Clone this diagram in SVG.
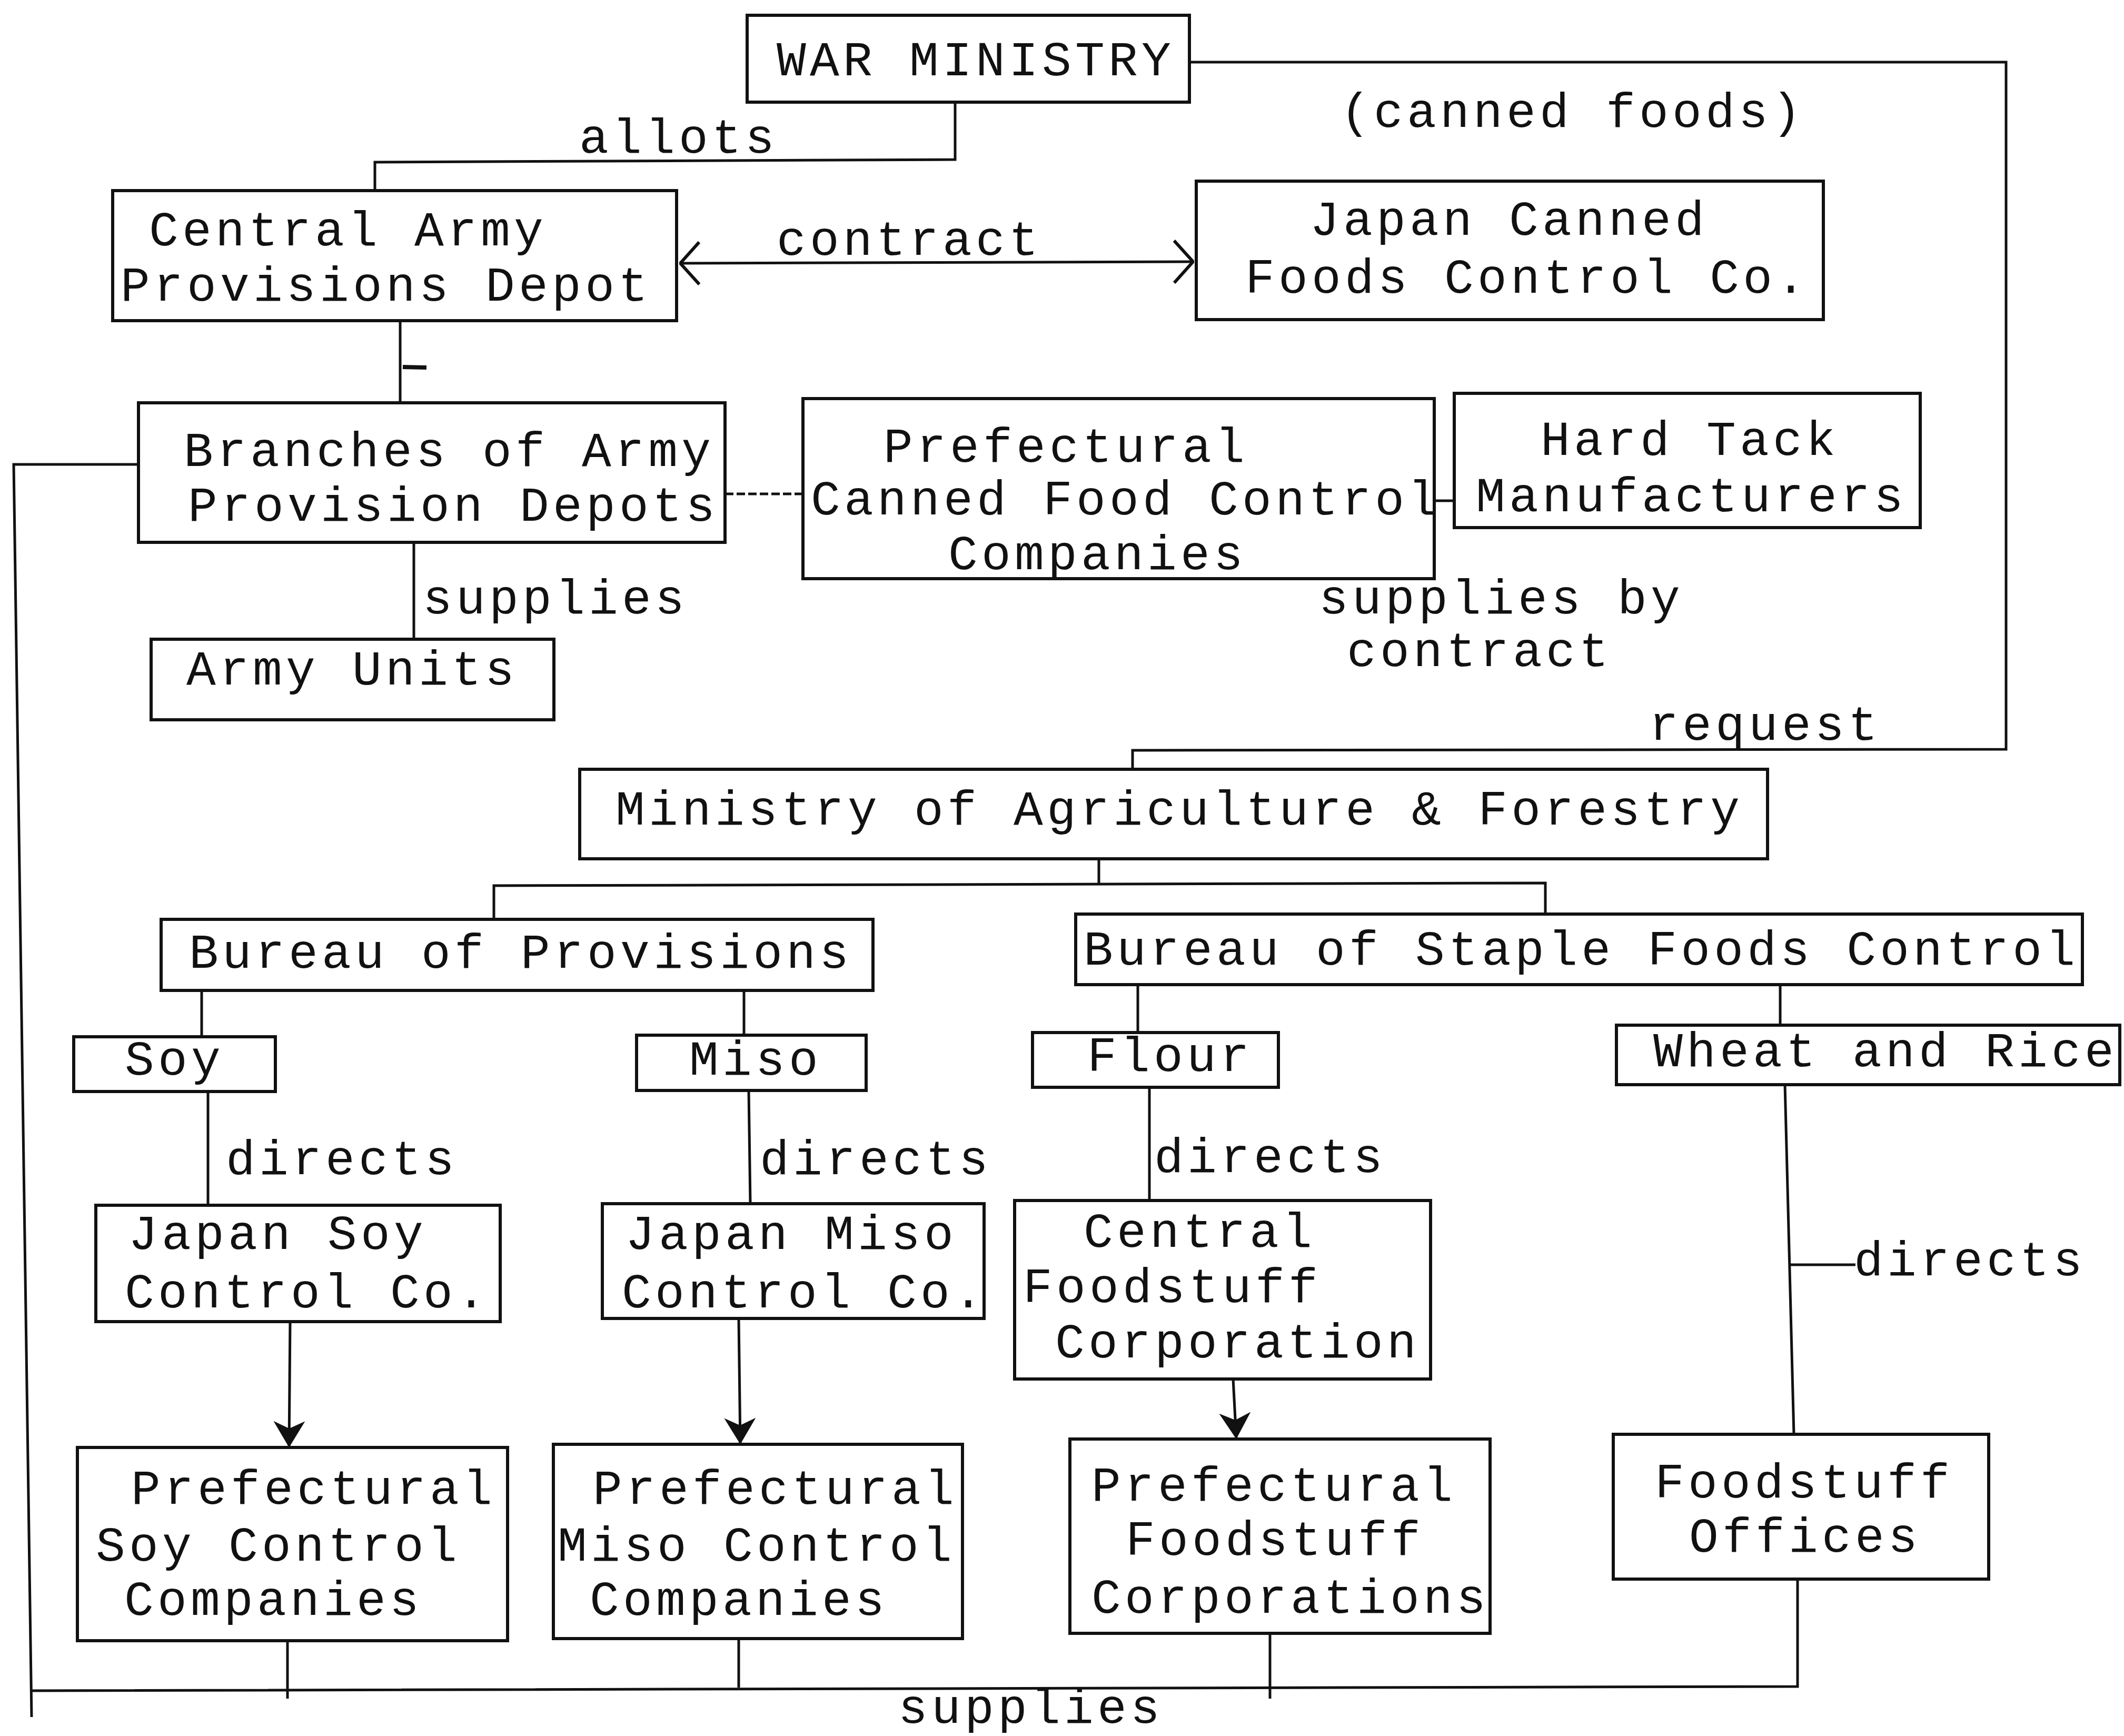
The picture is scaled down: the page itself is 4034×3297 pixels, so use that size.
<svg xmlns="http://www.w3.org/2000/svg" width="4034" height="3297" viewBox="0 0 4034 3297">
<style>
.box{fill:none;stroke:#111;stroke-width:6}
.ln{fill:none;stroke:#111;stroke-width:5}
.dash{fill:none;stroke:#111;stroke-width:5;stroke-dasharray:16 6}
text{font-family:"Liberation Mono","Courier New",monospace;font-size:93px;letter-spacing:7.2px;fill:#111}
</style>
<defs>
<marker id="ah" viewBox="0 0 50 60" refX="50" refY="30" markerWidth="50" markerHeight="60" markerUnits="userSpaceOnUse" orient="auto-start-reverse">
<path d="M0,0 L50,30 L0,60 L14,30 Z" fill="#111"/>
</marker>
<marker id="ah2" viewBox="0 0 40 84" refX="38" refY="42" markerWidth="40" markerHeight="84" markerUnits="userSpaceOnUse" orient="auto-start-reverse">
<path d="M2,2 L38,42 L2,82" fill="none" stroke="#111" stroke-width="6"/>
</marker>
</defs>
<rect width="4034" height="3297" fill="#fff"/>

<g id="connectors">
<polyline class="ln" points="1814,196 1814,303 712,308 712,362"/>
<polyline class="ln" points="2259,118 3810,118 3810,1423 2151,1425 2151,1461"/>
<line class="ln" x1="1292" y1="500" x2="2266" y2="497" marker-start="url(#ah2)" marker-end="url(#ah2)"/>
<line class="ln" x1="760" y1="609" x2="760" y2="765"/>
<line class="ln" x1="765" y1="697" x2="810" y2="698" style="stroke-width:8"/>
<line class="dash" x1="1377" y1="938" x2="1525" y2="938"/>
<line class="ln" x1="2724" y1="951" x2="2762" y2="951"/>
<line class="ln" x1="786" y1="1030" x2="786" y2="1214"/>
<polyline class="ln" points="263,882 26,882 60,3261"/>
<line class="ln" x1="2087" y1="1631" x2="2087" y2="1680"/>
<polyline class="ln" points="938,1746 938,1682 2935,1677 2935,1737"/>
<line class="ln" x1="383" y1="1881" x2="383" y2="1969"/>
<line class="ln" x1="1413" y1="1881" x2="1413" y2="1966"/>
<line class="ln" x1="2161" y1="1870" x2="2161" y2="1961"/>
<line class="ln" x1="3381" y1="1870" x2="3381" y2="1947"/>
<line class="ln" x1="395" y1="2073" x2="395" y2="2289"/>
<line class="ln" x1="1422" y1="2071" x2="1425" y2="2286"/>
<line class="ln" x1="2183" y1="2065" x2="2183" y2="2280"/>
<line class="ln" x1="3390" y1="2060" x2="3407" y2="2724"/>
<line class="ln" x1="3398" y1="2402" x2="3524" y2="2402"/>
<line class="ln" x1="551" y1="2510" x2="549" y2="2749" marker-end="url(#ah)"/>
<line class="ln" x1="1403" y1="2504" x2="1406" y2="2743" marker-end="url(#ah)"/>
<line class="ln" x1="2342" y1="2619" x2="2348" y2="2733" marker-end="url(#ah)"/>
<line class="ln" x1="546" y1="3116" x2="546" y2="3226"/>
<line class="ln" x1="1403" y1="3112" x2="1403" y2="3205"/>
<line class="ln" x1="2412" y1="3102" x2="2412" y2="3226"/>
<polyline class="ln" points="3414,2999 3414,3203 60,3211"/>
<text x="1100" y="290">allots</text>
<text x="1475" y="484">contract</text>
<text x="2546" y="241">(canned foods)</text>
<text x="803" y="1165">supplies</text>
<text x="2505" y="1165">supplies by</text>
<text x="2558" y="1265">contract</text>
<text x="3132" y="1405">request</text>
<text x="429" y="2230">directs</text>
<text x="1443" y="2230">directs</text>
<text x="2192" y="2226">directs</text>
<text x="3521" y="2422">directs</text>
<text x="1706" y="3272">supplies</text>
</g>

<g id="war-ministry">
<rect class="box" x="1419" y="29" width="840" height="165"/>
<text x="1475" y="143">WAR MINISTRY</text>
</g>
<g id="central-army-provisions-depot">
<rect class="box" x="214" y="362" width="1071" height="247"/>
<text x="283" y="466">Central Army</text>
<text x="229" y="571">Provisions Depot</text>
</g>
<g id="japan-canned-foods">
<rect class="box" x="2272" y="344" width="1191" height="263"/>
<text x="2488" y="446">Japan Canned</text>
<text x="2365" y="556">Foods Control Co.</text>
</g>
<g id="branches">
<rect class="box" x="263" y="765" width="1114" height="265"/>
<text x="349" y="885">Branches of Army</text>
<text x="357" y="989">Provision Depots</text>
</g>
<g id="prefectural-canned">
<rect class="box" x="1525" y="757" width="1199" height="342"/>
<text x="1678" y="877">Prefectural</text>
<text x="1540" y="977">Canned Food Control</text>
<text x="1801" y="1081">Companies</text>
</g>
<g id="hard-tack">
<rect class="box" x="2762" y="747" width="885" height="255"/>
<text x="2926" y="864">Hard Tack</text>
<text x="2803" y="971">Manufacturers</text>
</g>
<g id="army-units">
<rect class="box" x="287" y="1214" width="765" height="153"/>
<text x="354" y="1300">Army Units</text>
</g>
<g id="ministry-agriculture">
<rect class="box" x="1101" y="1461" width="2256" height="170"/>
<text x="1169" y="1566">Ministry of Agriculture &amp; Forestry</text>
</g>
<g id="bureau-provisions">
<rect class="box" x="306" y="1746" width="1352" height="135"/>
<text x="359" y="1838">Bureau of Provisions</text>
</g>
<g id="bureau-staple">
<rect class="box" x="2043" y="1736" width="1912" height="134"/>
<text x="2058" y="1832">Bureau of Staple Foods Control</text>
</g>
<g id="soy">
<rect class="box" x="140" y="1969" width="383" height="104"/>
<text x="237" y="2041">Soy</text>
</g>
<g id="miso">
<rect class="box" x="1209" y="1966" width="436" height="105"/>
<text x="1309" y="2041">Miso</text>
</g>
<g id="flour">
<rect class="box" x="1961" y="1961" width="467" height="104"/>
<text x="2065" y="2034">Flour</text>
</g>
<g id="wheat-rice">
<rect class="box" x="3070" y="1947" width="956" height="113"/>
<text x="3140" y="2025">Wheat and Rice</text>
</g>
<g id="japan-soy">
<rect class="box" x="182" y="2289" width="768" height="221"/>
<text x="244" y="2372">Japan Soy</text>
<text x="237" y="2483">Control Co.</text>
</g>
<g id="japan-miso">
<rect class="box" x="1144" y="2286" width="725" height="218"/>
<text x="1188" y="2372">Japan Miso</text>
<text x="1181" y="2483">Control Co.</text>
</g>
<g id="central-foodstuff">
<rect class="box" x="1927" y="2280" width="790" height="339"/>
<text x="2058" y="2368">Central</text>
<text x="1943" y="2473">Foodstuff</text>
<text x="2004" y="2578">Corporation</text>
</g>
<g id="prefectural-soy">
<rect class="box" x="147" y="2749" width="817" height="367"/>
<text x="249" y="2856">Prefectural</text>
<text x="182" y="2964">Soy Control</text>
<text x="236" y="3067">Companies</text>
</g>
<g id="prefectural-miso">
<rect class="box" x="1051" y="2743" width="777" height="369"/>
<text x="1126" y="2856">Prefectural</text>
<text x="1059" y="2964">Miso Control</text>
<text x="1120" y="3067">Companies</text>
</g>
<g id="prefectural-foodstuff">
<rect class="box" x="2032" y="2733" width="798" height="369"/>
<text x="2073" y="2850">Prefectural</text>
<text x="2138" y="2953">Foodstuff</text>
<text x="2073" y="3063">Corporations</text>
</g>
<g id="foodstuff-offices">
<rect class="box" x="3064" y="2724" width="713" height="275"/>
<text x="3143" y="2844">Foodstuff</text>
<text x="3208" y="2947">Offices</text>
</g>
</svg>
